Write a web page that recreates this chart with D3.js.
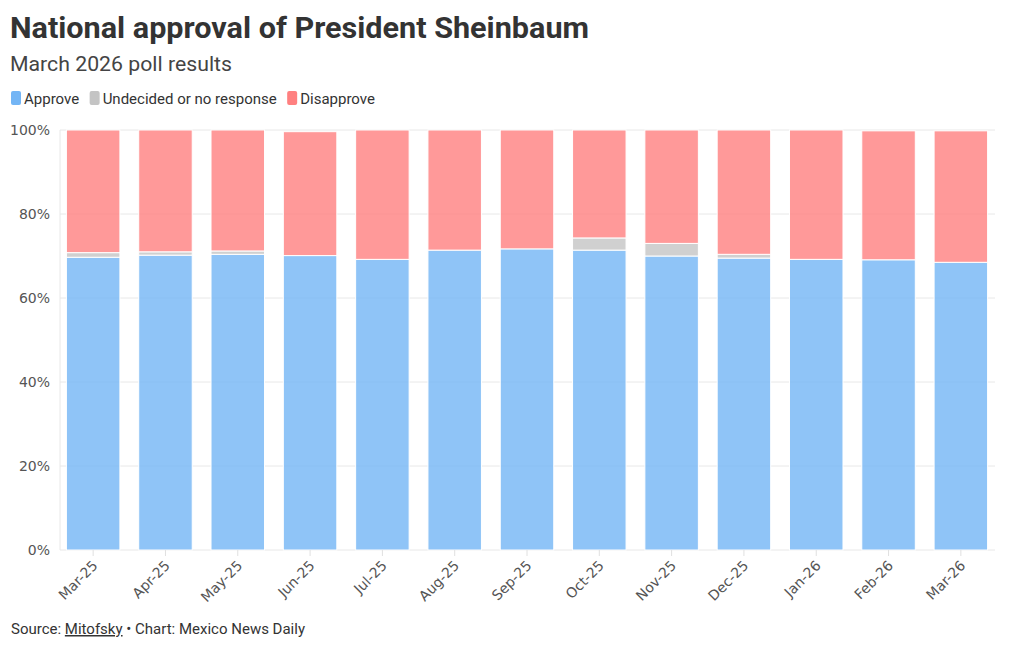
<!DOCTYPE html>
<html>
<head>
<meta charset="utf-8">
<script src="https://cdn.jsdelivr.net/npm/d3@7"></script>
<style>
  body { margin: 0; background: #fff; }
  svg { display: block; }
</style>
</head>
<body>
<div id="chart"></div>
<script>
// poll data
var months = ['Mar-25', 'Apr-25', 'May-25', 'Jun-25', 'Jul-25', 'Aug-25', 'Sep-25',
              'Oct-25', 'Nov-25', 'Dec-25', 'Jan-26', 'Feb-26', 'Mar-26'];
var approve    = [69.7, 70.2, 70.4, 70.1, 69.2, 71.4, 71.7, 71.4, 70.0, 69.5, 69.2, 69.1, 68.5];
var undecided  = [1.1, 0.8, 0.8, 0, 0, 0, 0, 2.9, 3.0, 0.9, 0, 0, 0];
var disapprove = [29.2, 29.0, 28.8, 29.5, 30.8, 28.6, 28.3, 25.7, 27.0, 29.6, 30.8, 30.7, 31.3];
var yTicks = [0, 20, 40, 60, 80, 100];

var seriesKeys = ['Approve', 'Undecided or no response', 'Disapprove'];
var colors = ['#73b5f5', '#c4c4c4', '#ff8080'];

(function() {

  var width = 1020, height = 649;
  // plot box (note: "top" is taken by window.top, so prefix these)
  var plotTop = 130, plotBottom = 550, plotLeft = 60, plotRight = 995;
  var axisFont = '"DejaVu Sans", sans-serif';

  var rows = months.map(function(m, i) {
    return {
      month: m,
      'Approve': approve[i],
      'Undecided or no response': undecided[i],
      'Disapprove': disapprove[i]
    };
  });

  var svg = d3.select('#chart')
              .append('svg')
              .attr('width', width)
              .attr('height', height);

  // title + subtitle
  svg.append('text')
     .attr('x', 10).attr('y', 38)
     .attr('font-family', 'Roboto, sans-serif')
     .attr('font-weight', 700)
     .attr('font-size', 30)
     .attr('fill', '#333')
     .attr('textLength', 579)
     .attr('lengthAdjust', 'spacingAndGlyphs')
     .text('National approval of President Sheinbaum');

  svg.append('text')
     .attr('x', 10).attr('y', 71)
     .attr('font-family', 'Roboto, sans-serif')
     .attr('font-size', 21)
     .attr('fill', '#444')
     .attr('textLength', 222)
     .attr('lengthAdjust', 'spacingAndGlyphs')
     .text('March 2026 poll results');

  // legend
  var legend = svg.append('g').attr('transform', 'translate(11,98)');
  var lx = 0;
  seriesKeys.forEach(function(k, i) {
    var g = legend.append('g').attr('transform', 'translate(' + lx + ',0)');
    g.append('rect')
     .attr('x', 0).attr('y', -7)
     .attr('width', 10).attr('height', 14)
     .attr('rx', 2)
     .attr('fill', colors[i]);
    var t = g.append('text')
             .attr('x', 13).attr('y', 5.5)
             .attr('font-family', 'Roboto, sans-serif')
             .attr('font-size', 15)
             .attr('fill', '#333')
             .text(k);
    lx += 13 + t.node().getComputedTextLength() + 10.5;
  });

  // scales
  var x = d3.scaleBand()
            .domain(months)
            .range([57, 997])
            .paddingInner(0.26)
            .paddingOuter(0.13);

  var y = d3.scaleLinear()
            .domain([0, 100])
            .range([plotBottom, plotTop]);

  // gridlines
  svg.append('g')
     .selectAll('line')
     .data(yTicks)
     .join('line')
     .attr('x1', plotLeft).attr('x2', plotRight)
     .attr('y1', function(d) { return y(d); })
     .attr('y2', function(d) { return y(d); })
     .attr('stroke', '#e8e8e8')
     .attr('stroke-width', 1);

  svg.append('line')
     .attr('x1', plotLeft).attr('x2', plotLeft)
     .attr('y1', plotTop).attr('y2', plotBottom)
     .attr('stroke', '#e8e8e8');

  // y axis
  var yAxis = svg.append('g')
                 .attr('transform', 'translate(' + plotLeft + ',0)')
                 .call(d3.axisLeft(y).tickValues(yTicks)
                         .tickFormat(function(d) { return d + '%'; })
                         .tickSize(0).tickPadding(10));
  yAxis.select('.domain').remove();
  yAxis.selectAll('text')
       .attr('font-family', axisFont)
       .attr('font-size', 14)
       .attr('fill', '#555');

  // stacked bars
  var stack = d3.stack().keys(seriesKeys)(rows);

  svg.append('g')
     .selectAll('g')
     .data(stack)
     .join('g')
     .attr('fill', function(d, i) { return colors[i]; })
     .attr('fill-opacity', 0.8)
     .selectAll('rect')
     .data(function(d) { return d.filter(function(p) { return p[1] - p[0] > 0; }); })
     .join('rect')
     .attr('x', function(d) { return x(d.data.month); })
     .attr('width', x.bandwidth())
     .attr('y', function(d) { return y(d[1]); })
     .attr('height', function(d) { return y(d[0]) - y(d[1]); })
     .attr('stroke', '#fff')
     .attr('stroke-width', 1);

  // x axis
  var xAxis = svg.append('g')
                 .attr('transform', 'translate(0,' + plotBottom + ')')
                 .call(d3.axisBottom(x).tickSize(6).tickPadding(0));
  xAxis.select('.domain').remove();
  xAxis.selectAll('line').attr('stroke', '#e0e0e0');
  xAxis.selectAll('text')
       .attr('font-family', axisFont)
       .attr('font-size', 14)
       .attr('fill', '#555')
       .attr('text-anchor', 'end')
       .attr('x', 0).attr('y', 0)
       .attr('dy', '0.35em')
       .attr('transform', 'translate(2,13) rotate(-45)');

  // source line
  var src = svg.append('text')
               .attr('x', 11).attr('y', 634)
               .attr('font-family', 'Roboto, sans-serif')
               .attr('font-size', 15)
               .attr('fill', '#333');
  src.append('tspan').text('Source: ');
  src.append('tspan').attr('text-decoration', 'underline').text('Mitofsky');
  src.append('tspan').text(' \u2022 Chart: Mexico News Daily');

})();
</script>
</body>
</html>
